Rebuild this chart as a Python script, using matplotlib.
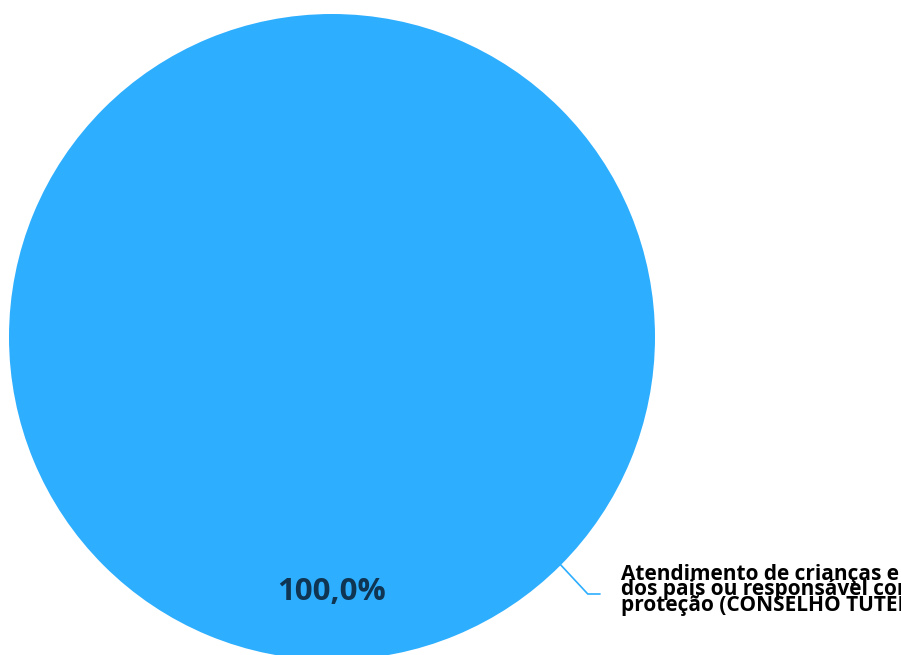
import numpy as np
import matplotlib
matplotlib.use("Agg")
import matplotlib.pyplot as plt

categories = ["Atendimento de crianças e adolescentes e\ndos pais ou responsável com medidas de\nproteção (CONSELHO TUTELAR)"]
values = [100.0]
colors = ["#2DAEFF"]

W, H = 901, 655
fig = plt.figure(figsize=(W / 100, H / 100), dpi=100)
ax = fig.add_axes([0, 0, 1, 1])
ax.set_xlim(0, W)
ax.set_ylim(0, H)
ax.set_aspect("equal")
ax.axis("off")

cx, cy, r = 332, H - 337, 323
wedges, texts, autotexts = ax.pie(
    values, colors=colors, startangle=90, counterclock=True,
    center=(cx, cy), radius=r, pctdistance=0.79,
    autopct=lambda p: f"{p:.1f}%".replace(".", ","),
    wedgeprops=dict(linewidth=0), frame=True,
)
for t in autotexts:
    t.set_fontfamily("Open Sans")
    t.set_fontweight("bold")
    t.set_fontsize(22.5)
    t.set_color("#0F3552")
ax.set_xlim(0, W)
ax.set_ylim(0, H)
ax.axis("off")

ang = np.deg2rad(-44.9)
p0 = (cx + r * np.cos(ang), cy + r * np.sin(ang))
p1 = (p0[0] + 27, p0[1] - 29)
p2 = (p1[0] + 12, p1[1])
ax.plot([p0[0], p1[0], p2[0]], [p0[1], p1[1], p2[1]], color=colors[0], lw=1.2,
        solid_joinstyle="miter")
ax.text(p2[0] + 21, p1[1] + 4, categories[0], fontfamily="Open Sans", fontweight="bold",
        fontsize=15, color="black", ha="left", va="center", linespacing=0.68)

fig.savefig("out.png", dpi=100)
